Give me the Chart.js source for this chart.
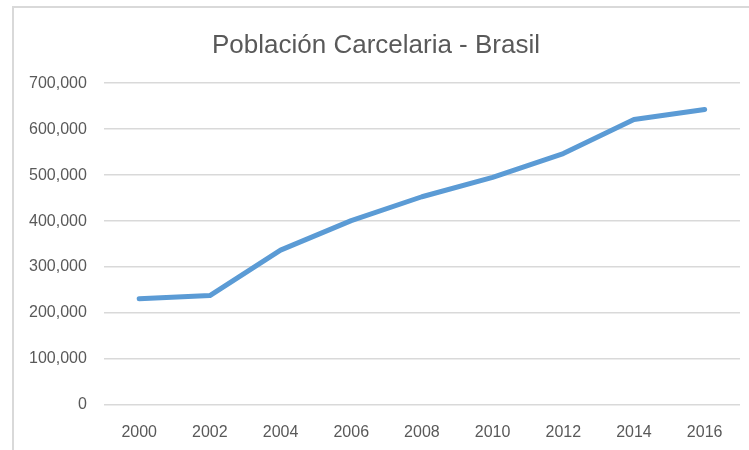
<!DOCTYPE html>
<html>
<head>
<meta charset="utf-8">
<script src="https://cdn.jsdelivr.net/npm/chart.js@4.4.1/dist/chart.umd.min.js"></script>
<style>
    html, body { margin: 0; padding: 0; background: #fff; overflow: hidden; }
    #frame { position: absolute; left: 12px; top: 6px; width: 800px; height: 500px; border: 2px solid #d9d9d9; box-sizing: border-box; }
    #wrap { position: absolute; left: 0; top: 0; width: 749px; height: 450px; }
</style>
</head>
<body>
<div id="frame"></div>
<div id="wrap"><canvas id="popChart"></canvas></div>
<script>
const years = ["2000", "2002", "2004", "2006", "2008", "2010", "2012", "2014", "2016"];
const population = [231000, 238000, 337000, 401000, 453000, 495000, 547000, 621000, 643000];

const ctx = document.getElementById("popChart").getContext("2d");

// Line chart
const popChart = new Chart(ctx, {
    type: "line",
    data: {
        labels: years,
        datasets: [{
            label: "Población",
            data: population,
            borderColor: "#5b9bd5",
            borderWidth: 5,
            pointRadius: 0,
            tension: 0,
            borderCapStyle: "round",
            borderJoinStyle: "round"
        }]
    },
    options: {
        animation: false,
        responsive: true,
        maintainAspectRatio: false,
        layout: { padding: { left: 12, right: 9, top: 30, bottom: 0 } },
        plugins: {
            legend: { display: false },
            tooltip: { enabled: false },
            title: {
                display: true,
                text: "Población Carcelaria - Brasil",
                color: "#595959",
                font: { family: "Liberation Sans", size: 26, weight: "normal" },
                padding: { top: 0, bottom: 22 }
            }
        },
        scales: {
            x: {
                offset: true,
                grid: { display: false, drawTicks: false },
                border: { display: false },
                afterFit: scale => { scale.height = 45; },
                ticks: {
                    color: "#595959",
                    font: { family: "Liberation Sans", size: 16 },
                    padding: 18,
                    maxRotation: 0
                }
            },
            y: {
                min: 0,
                max: 700000,
                grid: { color: "#d9d9d9", lineWidth: 1.5, drawTicks: false },
                border: { display: false },
                ticks: {
                    stepSize: 100000,
                    color: "#595959",
                    font: { family: "Liberation Sans", size: 16 },
                    padding: 17,
                    callback: v => v.toLocaleString("en-US")
                }
            }
        }
    }
});
</script>
</body>
</html>
